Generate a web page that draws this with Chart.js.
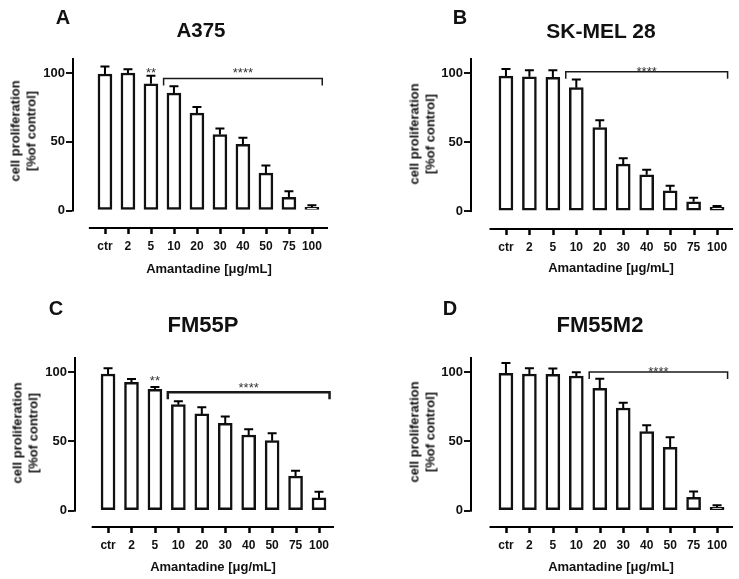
<!DOCTYPE html>
<html><head><meta charset="utf-8">
<script src="https://cdn.jsdelivr.net/npm/chart.js@4.4.1/dist/chart.umd.min.js"></script>
<style>
body{margin:0;background:#fff;width:739px;height:579px;overflow:hidden;position:relative;font-family:Arial,"Liberation Sans",Helvetica,sans-serif;color:#111;}
.panel{position:absolute;}
.panel canvas{display:block;}
.lbl{position:absolute;font-weight:bold;white-space:nowrap;transform:translate(-50%,-50%);line-height:1;}
.ytitle{position:absolute;font-weight:bold;font-size:13px;line-height:15.5px;text-align:center;white-space:nowrap;transform:translate(-50%,-50%) rotate(-90deg);}
</style></head><body>
<script>
// ---------- DATA ----------
const categories = ['ctr','2','5','10','20','30','40','50','75','100'];
const yTickValues = [0, 50, 100];
const panelLetters = ['A','B','C','D'];
const cellLines = ['A375','SK-MEL 28','FM55P','FM55M2'];
const yTitleLines = ['cell proliferation','[%of control]'];
const xTitle = 'Amantadine [\u03bcg/mL]';

const a375Mean = [99.5, 100.2, 92.3, 85.5, 71.0, 55.4, 48.2, 27.2, 9.6, 2.4];
const a375Err  = [5.5, 2.8, 6.0, 5.1, 4.4, 4.4, 4.8, 5.6, 4.4, 1.5];
const skmelMean = [97.8, 97.3, 96.9, 89.4, 60.5, 34.0, 26.3, 14.7, 6.7, 2.7];
const skmelErr  = [5.2, 4.7, 5.1, 6.0, 5.3, 4.3, 3.7, 3.6, 2.9, 0.9];
const fm55pMean = [98.8, 92.8, 87.7, 76.6, 69.9, 63.1, 54.7, 50.6, 25.0, 9.2];
const fm55pErr  = [4.1, 2.4, 1.7, 2.4, 4.8, 4.9, 4.1, 5.3, 3.9, 4.5];
const fm55m2Mean = [99.3, 98.8, 98.6, 97.3, 88.4, 74.2, 57.1, 45.8, 9.6, 2.4];
const fm55m2Err  = [7.4, 4.1, 4.1, 2.7, 7.0, 3.8, 4.6, 7.2, 4.3, 1.6];

// significance annotations
const bracketFromCat = ['10','10','10','20'];
const bracketToCat   = ['100','100','100','100'];
const bracketLevel   = [96.2, 101.0, 85.5, 100.3];
const bracketStarLevel = [102.4, 103.4, 90.8, 102.7];
const bracketStars = '****';
const singleMarkCat   = ['5', null, '5', null];
const singleMarkLevel = [102.4, null, 95.9, null];
const singleMarkText  = '**';

const means = [a375Mean, skmelMean, fm55pMean, fm55m2Mean];
const errs  = [a375Err, skmelErr, fm55pErr, fm55m2Err];

// ---------- LAYOUT / STYLE ----------
const FONT = 'Arial, "Liberation Sans", Helvetica, sans-serif';
const layouts = [
  {left:0,   top:0,   w:370, h:290, ca:{l:73, t:58, r:328, b:228}, xMin:-1.39, xMax:9.70, yMin:-12.75, yMax:111.15, bw:1.5,
   letter:[63,17], title:[201,29.5,20.5], ytitle:[23.3,131], xt:[209,267.5]},
  {left:370, top:0,   w:369, h:290, ca:{l:101,t:58, r:363,b:229}, xMin:-1.49, xMax:9.68, yMin:-13.0, yMax:110.9, bw:1.5,
   letter:[460,17], title:[601,30,21], ytitle:[421.5,134], xt:[611,267]},
  {left:0,   top:290, w:370, h:289, ca:{l:75, t:67, r:334,b:237}, xMin:-1.41, xMax:9.64, yMin:-11.8, yMax:111.06, bw:2.5,
   letter:[56,308], title:[203,325,22], ytitle:[25,433], xt:[213,566]},
  {left:370, top:290, w:369, h:289, ca:{l:101,t:67, r:363,b:237}, xMin:-1.49, xMax:9.68, yMin:-11.8, yMax:111.06, bw:1.5,
   letter:[450,308], title:[600,325,22], ytitle:[421.5,432], xt:[611,566]}
];
const EXT_BOTTOM = 10;
const EXT_LEFT = 1;

function addText(cls, txt, x, y, size){
  const d = document.createElement('div');
  d.className = cls; d.style.left = x+'px'; d.style.top = y+'px';
  if (size) d.style.fontSize = size+'px';
  if (Array.isArray(txt)) d.innerHTML = txt.join('<br>'); else d.textContent = txt;
  document.body.appendChild(d);
}

const annotPlugin = {
  id: 'annot',
  afterDraw(chart, args, o) {
    const ctx = chart.ctx, xs = chart.scales.x, ys = chart.scales.y, ca = chart.chartArea;
    ctx.save();
    ctx.strokeStyle = '#000'; ctx.fillStyle = '#000'; ctx.lineWidth = 2; ctx.lineCap = 'butt';
    // y axis line (from 0 to top)
    const axX = Math.round(ca.left);
    const y0 = ys.getPixelForValue(0);
    ctx.fillRect(axX, ca.top, 2, y0 + 1 - ca.top);
    // detached x axis line
    const axisY = Math.round(ys.getPixelForValue(o.axisValue));
    const xStart = xs.getPixelForValue(-0.7);
    ctx.fillRect(xStart, axisY - 1, ca.right - xStart, 2);
    // x tick marks at each category
    ctx.beginPath();
    categories.forEach((c, i) => {
      const xt = Math.round(xs.getPixelForValue(i)) + 0.5;
      ctx.moveTo(xt, axisY - 1);
      ctx.lineTo(xt, axisY + 6);
    });
    ctx.lineWidth = 2.5;
    ctx.stroke();
    ctx.lineWidth = 2;
    // error bars (upper)
    const meta = chart.getDatasetMeta(0);
    const vals = chart.data.datasets[0].data;
    meta.data.forEach((bar, i) => {
      const v = vals[i].y, e = o.errors[i];
      const x = bar.x, yt = ys.getPixelForValue(v), ye = ys.getPixelForValue(v + e);
      ctx.beginPath();
      ctx.moveTo(x, yt); ctx.lineTo(x, ye);
      ctx.moveTo(x - 4.5, ye); ctx.lineTo(x + 4.5, ye);
      ctx.stroke();
    });
    // bracket
    const i1 = categories.indexOf(o.from), i2 = categories.indexOf(o.to);
    const x1 = xs.getPixelForValue(i1 - 0.45), x2 = xs.getPixelForValue(i2 + 0.45);
    const yb = ys.getPixelForValue(o.level);
    ctx.lineWidth = o.bw; ctx.strokeStyle = '#1a1a1a';
    ctx.beginPath();
    ctx.moveTo(x1, yb + 7); ctx.lineTo(x1, yb); ctx.lineTo(x2, yb); ctx.lineTo(x2, yb + 7);
    ctx.stroke();
    // stars
    ctx.fillStyle = '#333'; ctx.font = '13px ' + FONT; ctx.textAlign = 'center'; ctx.textBaseline = 'alphabetic';
    ctx.fillText(bracketStars, (x1 + x2) / 2, ys.getPixelForValue(o.starLevel) + 7.4);
    if (o.markCat !== null) {
      const xm = xs.getPixelForValue(categories.indexOf(o.markCat));
      ctx.fillText(singleMarkText, xm, ys.getPixelForValue(o.markLevel) + 7.4);
    }
    ctx.restore();
  }
};

layouts.forEach((L, p) => {
  const wrap = document.createElement('div');
  wrap.className = 'panel';
  wrap.style.left = L.left + 'px'; wrap.style.top = L.top + 'px';
  wrap.style.width = L.w + 'px'; wrap.style.height = L.h + 'px';
  const cv = document.createElement('canvas');
  cv.width = L.w; cv.height = L.h; cv.style.width = L.w + 'px'; cv.style.height = L.h + 'px';
  wrap.appendChild(cv); document.body.appendChild(wrap);

  addText('lbl', panelLetters[p], L.letter[0], L.letter[1], 20);
  addText('lbl', cellLines[p], L.title[0], L.title[1], L.title[2]);
  addText('ytitle', yTitleLines, L.ytitle[0], L.ytitle[1]);
  addText('lbl', xTitle, L.xt[0], L.xt[1], 13);

  const pxPerX = (L.ca.r - L.ca.l) / (L.xMax - L.xMin);
  const pxPerY = (L.ca.b - L.ca.t) / (L.yMax - L.yMin);
  const xMinExt = L.xMin - EXT_LEFT / pxPerX;
  const yMinExt = L.yMin - EXT_BOTTOM / pxPerY;
  const caLeft = L.ca.l - EXT_LEFT;
  const caBottom = L.ca.b + EXT_BOTTOM;

  new Chart(cv, {
    type: 'bar',
    data: {
      datasets: [{
        data: categories.map((c, i) => ({x: i, y: means[p][i]})),
        backgroundColor: '#ffffff',
        borderColor: '#111111',
        borderWidth: 2.5,
        borderSkipped: false,
        barThickness: 14
      }]
    },
    options: {
      responsive: false,
      animation: false,
      devicePixelRatio: 1,
      layout: {padding: {left: 0, top: L.ca.t, right: L.w - L.ca.r, bottom: 0}},
      plugins: {
        legend: {display: false},
        tooltip: {enabled: false},
        annot: {errors: errs[p], from: bracketFromCat[p], to: bracketToCat[p], level: bracketLevel[p],
                starLevel: bracketStarLevel[p], markCat: singleMarkCat[p], markLevel: singleMarkLevel[p],
                bw: L.bw, axisValue: L.yMin}
      },
      scales: {
        x: {
          type: 'linear', min: xMinExt, max: L.xMax, offset: false,
          afterBuildTicks: s => { s.ticks = categories.map((c, i) => ({value: i})); },
          afterFit: s => { s.height = L.h - caBottom; },
          ticks: {callback: v => categories[v], autoSkip: false, maxRotation: 0, padding: 1,
                  color: '#111', font: {family: FONT, size: 12, weight: 'bold'}},
          grid: {display: false, drawOnChartArea: false, drawTicks: false, tickLength: 0},
          border: {display: false}
        },
        y: {
          type: 'linear', min: yMinExt, max: L.yMax,
          afterBuildTicks: s => { s.ticks = yTickValues.map(v => ({value: v})); },
          afterFit: s => { s.width = caLeft; },
          ticks: {padding: 1, color: '#111', font: {family: FONT, size: 13, weight: 'bold'}},
          grid: {offset: false, drawOnChartArea: false, drawTicks: true, tickLength: 6, color: '#111', lineWidth: 2},
          border: {display: false}
        }
      }
    },
    plugins: [annotPlugin]
  });
});
</script>
</body></html>
